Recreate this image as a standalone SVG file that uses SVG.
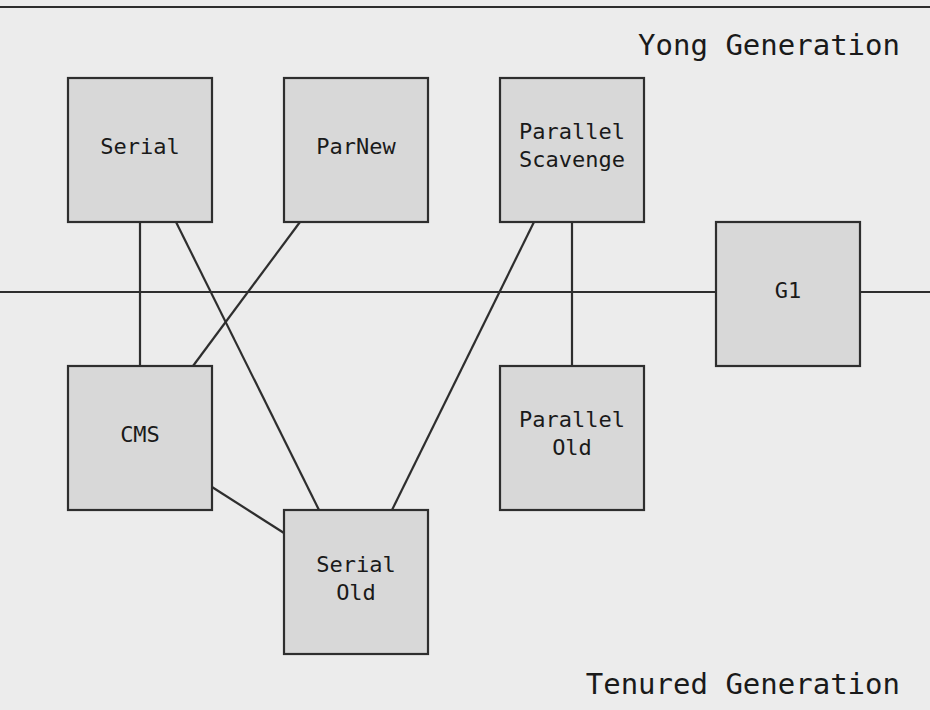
<svg xmlns="http://www.w3.org/2000/svg" width="930" height="710" viewBox="0 0 930 710">
<style>
.box{fill:#d8d8d8;stroke:#2e2e2e;stroke-width:2.2}
.ln{stroke:#2e2e2e;stroke-width:2.2;fill:none}
.t{font-family:"DejaVu Sans Mono","Liberation Mono",monospace;font-size:22px;fill:#1a1a1a;text-anchor:middle}
.h{font-family:"DejaVu Sans Mono","Liberation Mono",monospace;font-size:29px;fill:#1a1a1a;text-anchor:end}
</style>
<rect x="0" y="0" width="930" height="710" fill="#ececec"/>
<line x1="0" y1="7" x2="930" y2="7" stroke="#2e2e2e" stroke-width="2.2"/>
<text class="h" x="900" y="55">Yong Generation</text>
<text class="h" x="900" y="694">Tenured Generation</text>
<g id="connectors">
<line class="ln" x1="0" y1="292" x2="716" y2="292"/>
<line class="ln" x1="860" y1="292" x2="930" y2="292"/>
<line class="ln" x1="140" y1="222" x2="140" y2="366"/>
<line class="ln" x1="176" y1="222" x2="319" y2="510"/>
<line class="ln" x1="300" y1="222" x2="193" y2="366"/>
<line class="ln" x1="534" y1="222" x2="392" y2="510"/>
<line class="ln" x1="572" y1="222" x2="572" y2="366"/>
<line class="ln" x1="212" y1="487" x2="284" y2="533"/>
</g>
<g id="serial"><rect class="box" x="68" y="78" width="144" height="144"/><text class="t" x="140" y="154">Serial</text></g>
<g id="parnew"><rect class="box" x="284" y="78" width="144" height="144"/><text class="t" x="356" y="154">ParNew</text></g>
<g id="parallel-scavenge"><rect class="box" x="500" y="78" width="144" height="144"/><text class="t" x="572" y="139">Parallel</text><text class="t" x="572" y="167">Scavenge</text></g>
<g id="g1"><rect class="box" x="716" y="222" width="144" height="144"/><text class="t" x="788" y="298">G1</text></g>
<g id="cms"><rect class="box" x="68" y="366" width="144" height="144"/><text class="t" x="140" y="442">CMS</text></g>
<g id="parallel-old"><rect class="box" x="500" y="366" width="144" height="144"/><text class="t" x="572" y="427">Parallel</text><text class="t" x="572" y="455">Old</text></g>
<g id="serial-old"><rect class="box" x="284" y="510" width="144" height="144"/><text class="t" x="356" y="572">Serial</text><text class="t" x="356" y="600">Old</text></g>
</svg>
